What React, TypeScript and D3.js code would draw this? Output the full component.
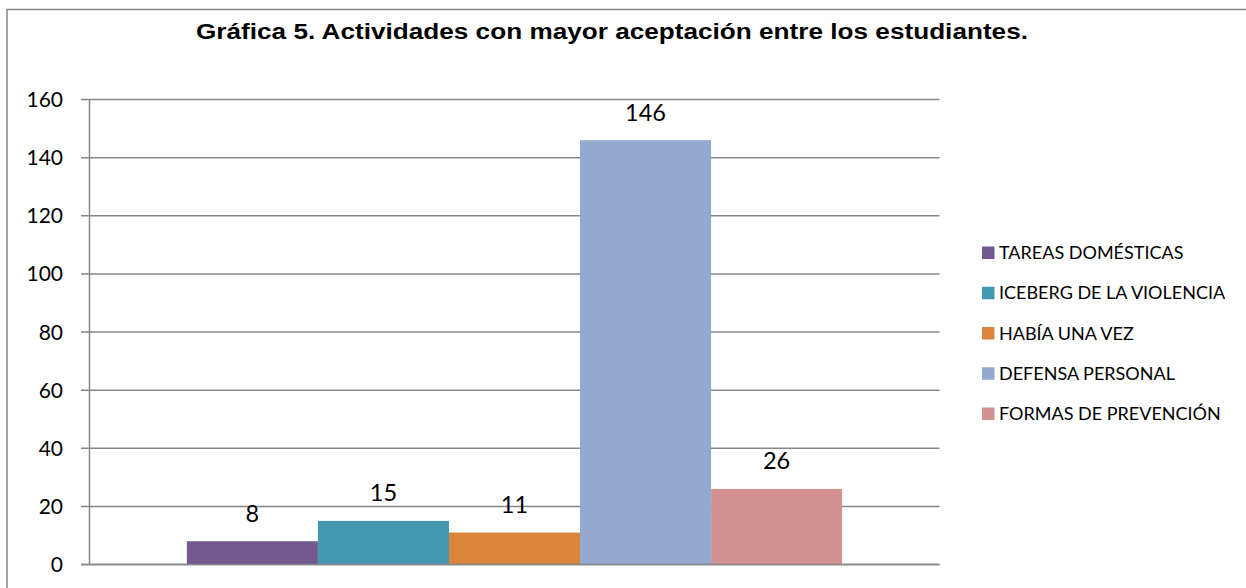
import React from "react";
import * as d3 from "d3";

const TITLE = "Gráfica 5. Actividades con mayor aceptación entre los estudiantes.";
const categories = ["TAREAS DOMÉSTICAS", "ICEBERG DE LA VIOLENCIA", "HABÍA UNA VEZ", "DEFENSA PERSONAL", "FORMAS DE PREVENCIÓN"];
const values = [8, 15, 11, 146, 26];
const colors = ["#71588F", "#4198AF", "#DB843D", "#93A9CF", "#D19392"];
const yTicks = [0, 20, 40, 60, 80, 100, 120, 140, 160];

const W = 1246;
const H = 588;
const plot = { left: 89.5, right: 939.5, top: 99.5, bottom: 564.5 };

export default function App() {
  const y = d3.scaleLinear().domain([0, 160]).range([plot.bottom, plot.top]);
  const outer = d3.scaleBand<string>().domain(["g"]).range([plot.left, plot.right]).paddingInner(0).paddingOuter(0.1486);
  const x = d3.scaleBand<string>().domain(categories).range([outer("g")!, outer("g")! + outer.bandwidth()]).padding(0);
  const grid = "#868686";
  const font = "Lato, 'Open Sans', sans-serif";
  const legendY = d3.scalePoint<string>().domain(categories).range([252.5, 413.5]);

  return (
    <svg width={W} height={H} style={{ position: "absolute", left: 0, top: 0, background: "#fff" }}>
      <rect x={0} y={0} width={W} height={H} fill="#fff" />
      <rect x={7} y={9.5} width={W + 20} height={H + 20} fill="none" stroke={grid} strokeWidth={1.5} />
      <text x={612} y={38.5} textAnchor="middle" fontFamily="'Liberation Sans Narrow', 'Liberation Sans', Arial, sans-serif" fontWeight="bold" fontSize={22} textLength={832} lengthAdjust="spacingAndGlyphs" fill="#000">
        {TITLE}
      </text>
      {yTicks.map((t) => (
        <g key={t}>
          <line x1={81} x2={plot.right} y1={y(t)} y2={y(t)} stroke={grid} strokeWidth={1.5} />
          <text x={63} y={y(t) + 7.5} textAnchor="end" fontFamily={font} fontSize={21} fill="#000">
            {t}
          </text>
        </g>
      ))}
      <line x1={plot.left} x2={plot.left} y1={plot.top} y2={plot.bottom} stroke={grid} strokeWidth={1.5} />
      {categories.map((c, i) => (
        <g key={c}>
          <rect x={x(c)!} y={y(values[i])} width={x.bandwidth()} height={y(0) - y(values[i])} fill={colors[i]} />
          <text x={x(c)! + x.bandwidth() / 2} y={y(values[i]) - 19.5} textAnchor="middle" fontFamily={font} fontSize={23.5} fill="#000">
            {values[i]}
          </text>
        </g>
      ))}
      <line x1={81} x2={plot.right} y1={y(0)} y2={y(0)} stroke={grid} strokeWidth={1.5} />
      {categories.map((c, i) => (
        <g key={"lg" + c}>
          <rect x={982} y={legendY(c)! - 6} width={12.5} height={12.5} fill={colors[i]} />
          <text x={999} y={legendY(c)! + 6.5} fontFamily={font} fontSize={18} fill="#000">
            {c}
          </text>
        </g>
      ))}
    </svg>
  );
}
